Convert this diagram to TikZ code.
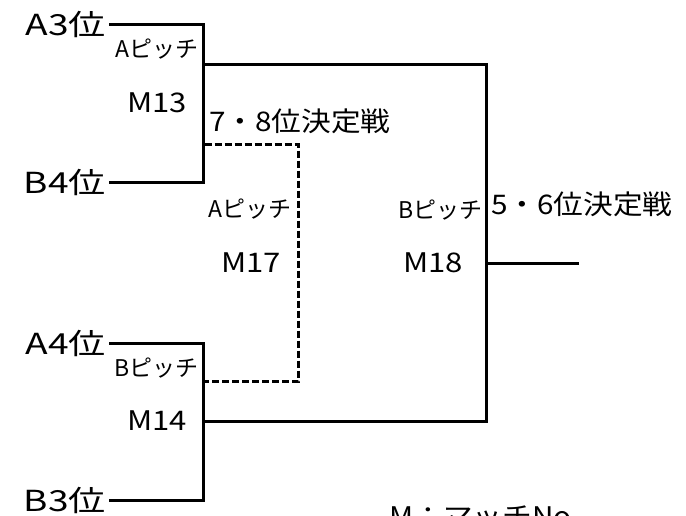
\documentclass[tikz,border=0pt]{standalone}
\usepackage{fontspec}
\setmainfont{Noto Sans CJK JP}
\usetikzlibrary{positioning}
\begin{document}
\begin{tikzpicture}[
  x=1pt,y=-1pt,
  myline/.style={line width=3pt},
  mydash/.style={line width=3pt,dash pattern=on 7pt off 3pt},
  myteam/.style={anchor=east,inner sep=3pt,font=\fontsize{29}{29}\selectfont\addfontfeature{FakeStretch=1.28}},
  mypitch/.style={inner sep=1pt,font=\fontsize{23}{23}\selectfont},
  mymatch/.style={inner sep=1pt,font=\fontsize{27}{27}\selectfont\addfontfeature{FakeStretch=1.15}},
  mytitle/.style={anchor=west,inner sep=1pt,font=\fontsize{27}{27}\selectfont\addfontfeature{FakeStretch=1.1}}
]
\useasboundingbox (0,0) rectangle (686,515);
% teams
\node[myteam] (A3) at (109,24) {A3位};
\node[myteam] (B4) at (109,182) {B4位};
\node[myteam] (A4) at (109,343) {A4位};
\node[myteam] (B3) at (109,500) {B3位};
% junctions
\coordinate (R13) at (203,64);
\coordinate (R14) at (203,421);
\coordinate (L13) at (203,144);
\coordinate (L14) at (203,381);
\coordinate (R17) at (298,263);
\coordinate (R18) at (486,263);
\coordinate (O18) at (579,263);
% matches
\node[mypitch,anchor=east] (P13) at (200,49) {Aピッチ};
\node[mymatch] (M13) at (157,103) {M13};
\node[mypitch,anchor=east] (P14) at (200,368) {Bピッチ};
\node[mymatch] (M14) at (157,421) {M14};
\node[mypitch] (P17) at (250,209) {Aピッチ};
\node[mymatch] (M17) at (251,263) {M17};
\node[mypitch,anchor=east] (P18) at (484,210) {Bピッチ};
\node[mymatch] (M18) at (433,263) {M18};
\node[mytitle] (T78) at (208,121) {7・8位決定戦};
\node[mytitle] (T56) at (490,204) {5・6位決定戦};
\node[mytitle,anchor=north west] (NOTE) at (388,505) {M：マッチNo};
% bracket
\draw[myline] (A3.east) -| (R13) |- (B4.east);
\draw[myline] (A4.east) -| (R14) |- (B3.east);
\draw[myline] (R13) -| (R18);
\draw[myline] (R14) -| (R18);
\draw[myline] (R18) -- (O18);
\draw[mydash] ([xshift=1.5pt]L13) -| (R17) |- ([xshift=1.5pt]L14);
\end{tikzpicture}
\end{document}
